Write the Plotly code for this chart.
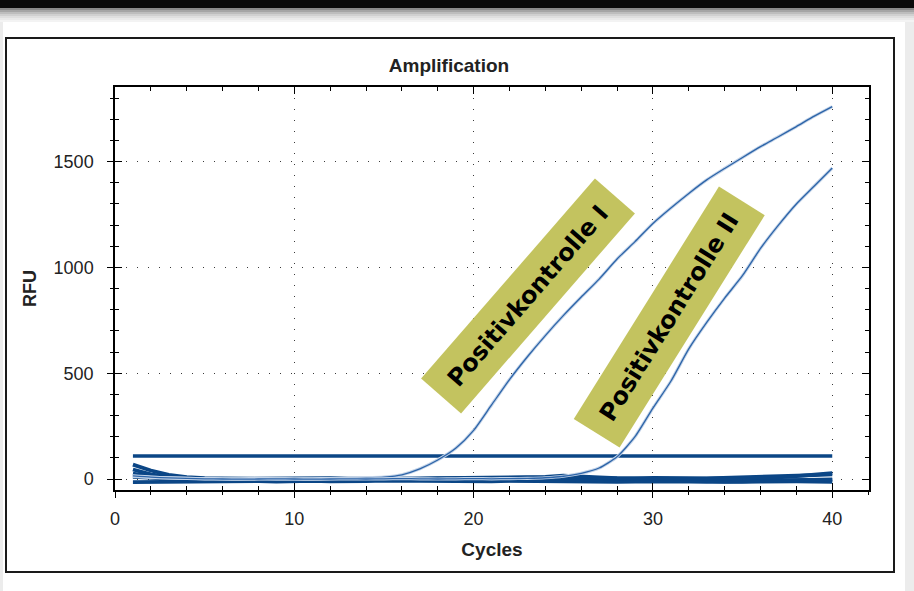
import plotly.graph_objects as go

# ---------------- data ----------------
cycles = list(range(1, 41))

positivkontrolle_1 = [12, 8, 5, 3, 2, 1, 1, 2, 1, 0, 1, 2, 3, 5, 9, 20, 48, 90, 145, 230,
                      350, 470, 578, 678, 772, 860, 945, 1040, 1122, 1208, 1281, 1350, 1414,
                      1468, 1520, 1571, 1618, 1666, 1715, 1760]
positivkontrolle_2 = [15, 9, 5, 3, 1, 0, -1, 0, 1, 0, -1, 0, 1, 0, 1, 2, 1, 0, 1, 2,
                      1, 2, 3, 6, 13, 27, 52, 105, 200, 335, 462, 615, 740, 855, 962, 1090,
                      1200, 1300, 1385, 1470]

baseline_a = [68, 40, 20, 9, 4, 2, 1, 0, 1, 2, 1, 0, -1, 0, 1, 2, 1, 0, 1, 2,
              3, 4, 6, 10, 16, 14, 8, 4, 2, 1, 0, 1, 2, 1, 2, 4, 8, 14, 20, 28]
baseline_b = [45, 22, 10, 4, 1, -1, -3, -4, -3, -2, -4, -6, -4, -3, -2, -3, -4, -3, -2, -1,
              -2, -3, -2, -1, 0, -3, -6, -8, -7, -5, -6, -8, -10, -12, -11, -9, -8, -6, -4, -2]
baseline_c = [10, 5, 0, -4, -6, -8, -7, -5, -4, -5, -7, -8, -6, -5, -4, -6, -5, -4, -5, -6,
              -5, -4, -6, -7, -5, -8, -10, -9, -8, -6, -5, -6, -9, -12, -10, -8, -7, -5, -4, -6]
baseline_d = [-15, -14, -12, -10, -10, -11, -9, -10, -12, -10, -9, -11, -12, -10, -8, -9, -11,
              -10, -9, -10, -11, -9, -10, -12, -11, -12, -14, -13, -12, -11, -10, -12, -14,
              -15, -13, -12, -10, -11, -12, -14]
baseline_e = [25, 12, 5, 2, 0, 1, 2, 3, 2, 1, 3, 4, 2, 1, 3, 2, 1, 3, 4, 2,
              3, 5, 4, 6, 10, 8, 4, 2, 3, 5, 6, 4, 3, 5, 6, 8, 10, 14, 18, 22]

threshold_x = [1, 40]
threshold_rfu = [109, 109]

x_range = [0, 42.05]
y_range = [-52, 1853]
x_ticks = [0, 10, 20, 30, 40]
y_ticks = [0, 500, 1000, 1500]

label_1 = "Positivkontrolle I"
label_2 = "Positivkontrolle II"

# ---------------- styles ----------------
DARK_BLUE = "#0b4686"
CURVE_BLUE = "#2c64a8"
HALO = "#c3d3e8"
OLIVE = "#c3c35f"

W, H = 914, 591
ML, MR, MT, MB = 115, 45, 87, 101
PW, PH = W - ML - MR, H - MT - MB


def px(xp):
    return (xp - ML) / PW


def py(yp):
    return (H - MB - yp) / PH


fig = go.Figure()

for series in [baseline_d, baseline_c, baseline_b, baseline_e, baseline_a]:
    fig.add_trace(go.Scatter(x=cycles, y=series, mode="lines",
                             line=dict(color=DARK_BLUE, width=3.8),
                             showlegend=False, hoverinfo="skip"))

fig.add_trace(go.Scatter(x=threshold_x, y=threshold_rfu, mode="lines",
                         line=dict(color=DARK_BLUE, width=3.4),
                         showlegend=False, hoverinfo="skip"))

for series in [positivkontrolle_1, positivkontrolle_2]:
    fig.add_trace(go.Scatter(x=cycles, y=series, mode="lines",
                             line=dict(color=HALO, width=3.2, shape="spline", smoothing=0.6),
                             showlegend=False, hoverinfo="skip"))
    fig.add_trace(go.Scatter(x=cycles, y=series, mode="lines",
                             line=dict(color=CURVE_BLUE, width=1.3, shape="spline", smoothing=0.6),
                             showlegend=False, hoverinfo="skip"))

# dummy trace to activate overlay axes (inside / mirrored ticks)
fig.add_trace(go.Scatter(x=[x_range[0]], y=[y_range[0]], xaxis="x2", yaxis="y2",
                         mode="markers", opacity=0, showlegend=False, hoverinfo="skip"))

tick_font = dict(family="Liberation Sans, Arial, sans-serif", size=18, color="#222222")
title_font = dict(family="Liberation Sans, Arial, sans-serif", size=19, color="#222222")
GRID = "#3a3a3a"

fig.update_layout(
    width=W, height=H,
    margin=dict(l=ML, r=MR, t=MT, b=MB),
    paper_bgcolor="white", plot_bgcolor="white",
    title=dict(text="<b>Amplification</b>", x=449 / W, xref="container", xanchor="center",
               y=1 - 65 / H, yref="container", yanchor="middle", font=title_font),
    xaxis=dict(range=x_range, tickvals=x_ticks, ticks="outside", ticklen=6, tickwidth=1.3,
               tickcolor="black", minor=dict(dtick=2, tick0=0, ticks="outside", ticklen=3,
                                             tickcolor="black", showgrid=False),
               showline=True, linecolor="black", linewidth=1.5, mirror=True,
               showgrid=True, gridcolor=GRID, griddash="1px,10px", gridwidth=1.2,
               zeroline=False, tickfont=tick_font, ticklabelstandoff=6,
               title=dict(text="<b>Cycles</b>", font=title_font, standoff=14)),
    yaxis=dict(range=y_range, tickvals=y_ticks, ticks="outside", ticklen=6, tickwidth=1.3,
               tickcolor="black", minor=dict(dtick=100, tick0=0, ticks="outside", ticklen=3,
                                             tickcolor="black", showgrid=False),
               showline=True, linecolor="black", linewidth=1.5, mirror=True,
               showgrid=True, gridcolor=GRID, griddash="1px,10px", gridwidth=1.2,
               zeroline=False, tickfont=tick_font, ticklabelstandoff=10,
               title=dict(text="<b>RFU</b>", font=dict(family=title_font["family"], size=18,
                                                      color="#222222"), standoff=12)),
    xaxis2=dict(range=x_range, overlaying="x", anchor="y", side="bottom",
                tickvals=x_ticks, ticks="inside", ticklen=7, tickwidth=1.3, tickcolor="black",
                minor=dict(dtick=2, tick0=0, ticks="inside", ticklen=4, tickcolor="black"),
                showticklabels=False, showgrid=False, zeroline=False,
                showline=True, linecolor="black", linewidth=1.5, mirror="ticks"),
    yaxis2=dict(range=y_range, overlaying="y", anchor="x", side="left",
                tickvals=y_ticks, ticks="inside", ticklen=7, tickwidth=1.3, tickcolor="black",
                minor=dict(dtick=100, tick0=0, ticks="inside", ticklen=4, tickcolor="black"),
                showticklabels=False, showgrid=False, zeroline=False,
                showline=True, linecolor="black", linewidth=1.5, mirror="ticks"),
)

ann_font = dict(family="DejaVu Sans, sans-serif", size=24, color="black")
fig.add_annotation(text=f"<b>{label_1}</b>", xref="paper", yref="paper",
                   x=px(528), y=py(296), xanchor="center", yanchor="middle",
                   showarrow=False, textangle=-49, bgcolor=OLIVE, width=262, height=50,
                   borderpad=1, font=ann_font)
fig.add_annotation(text=f"<b>{label_2}</b>", xref="paper", yref="paper",
                   x=px(669), y=py(317.5), xanchor="center", yanchor="middle",
                   showarrow=False, textangle=-58, bgcolor=OLIVE, width=271, height=51,
                   borderpad=1, font=ann_font)

# decoration: black bar on top, grey fade, outer frame
shapes = [
    dict(type="rect", xref="paper", yref="paper", x0=px(0), x1=px(W), y0=py(0), y1=py(8),
         fillcolor="#0a0a0a", line=dict(width=0), layer="above"),
]
fade = ["#8a8a8a", "#a5a5a5", "#bdbdbd", "#d0d0d0", "#dfdfdf", "#eaeaea", "#f3f3f3"]
for i, c in enumerate(fade):
    shapes.append(dict(type="rect", xref="paper", yref="paper", x0=px(0), x1=px(W),
                       y0=py(8 + 2 * i), y1=py(10 + 2 * i), fillcolor=c,
                       line=dict(width=0), layer="above"))
shapes.append(dict(type="rect", xref="paper", yref="paper", x0=px(6), x1=px(894),
                   y0=py(38), y1=py(572), fillcolor="rgba(0,0,0,0)",
                   line=dict(color="#1a1a1a", width=2), layer="above"))
shapes.append(dict(type="rect", xref="paper", yref="paper", x0=px(905), x1=px(W),
                   y0=py(22), y1=py(H), fillcolor="#ececec", line=dict(width=0),
                   layer="above"))
shapes.append(dict(type="rect", xref="paper", yref="paper", x0=px(0), x1=px(3),
                   y0=py(22), y1=py(H), fillcolor="#ececec", line=dict(width=0),
                   layer="above"))
fig.update_layout(shapes=shapes)

fig.write_html("out.html", config={"displayModeBar": False},
               post_script="document.body.style.margin='0';"
                           "document.body.style.overflow='hidden';")
